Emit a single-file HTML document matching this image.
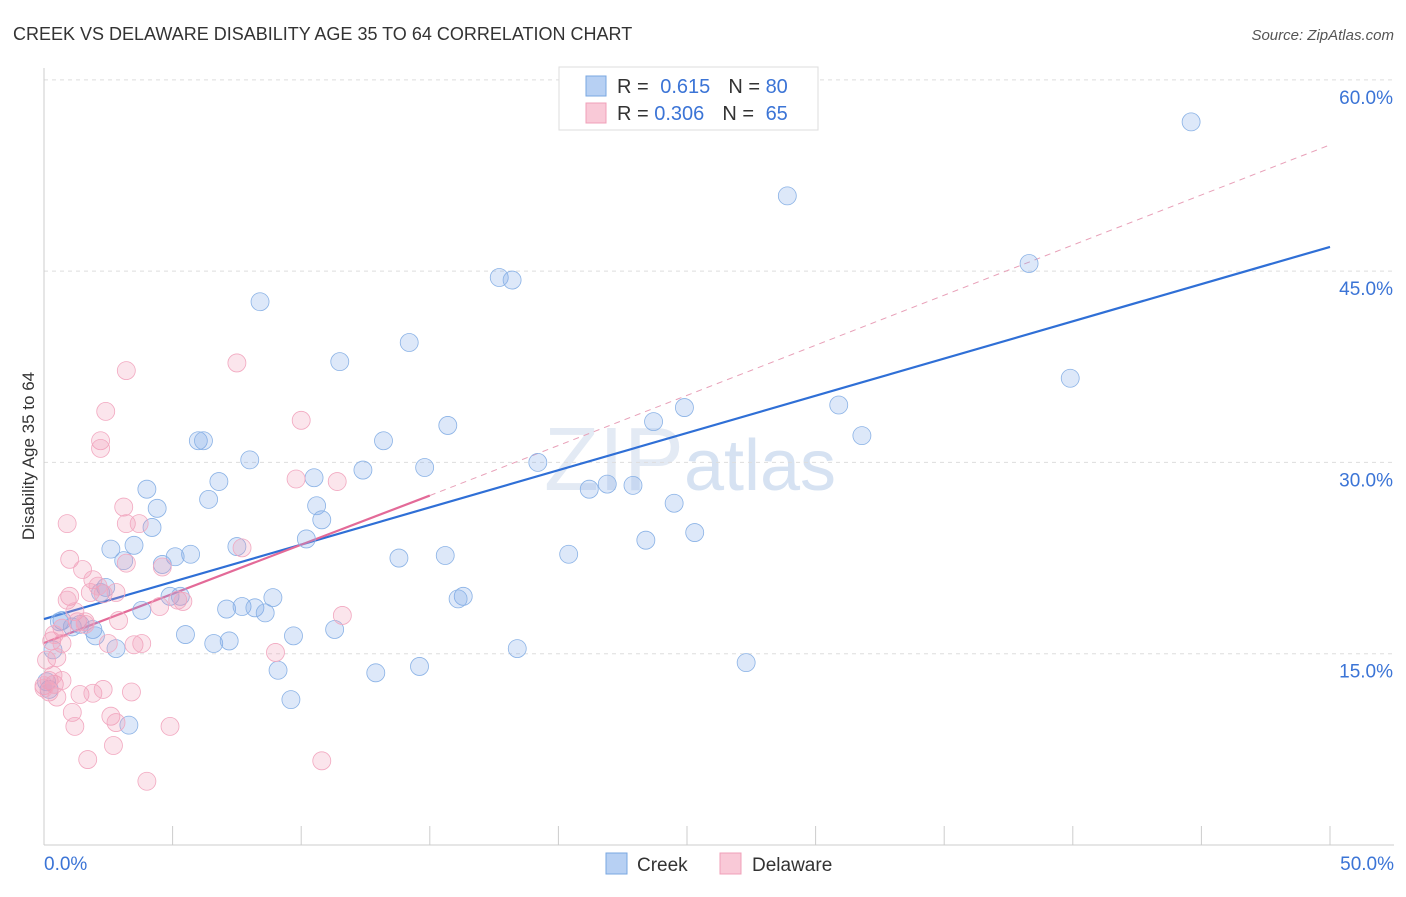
<!DOCTYPE html>
<html><head><meta charset="utf-8"><style>
body{margin:0;background:#fff;font-family:"Liberation Sans",sans-serif}
svg text{font-family:"Liberation Sans",sans-serif}
</style></head><body>
<svg id="chart" width="1406" height="892" xmlns="http://www.w3.org/2000/svg">
<text x="13" y="40" font-size="18" fill="#333">CREEK VS DELAWARE DISABILITY AGE 35 TO 64 CORRELATION CHART</text>
<text x="1394" y="40" font-size="15" fill="#555" text-anchor="end" font-style="italic">Source: ZipAtlas.com</text>
<text x="690" y="490" font-size="90" fill="#e3eaf4" text-anchor="middle" font-family="Liberation Serif">ZIP<tspan font-family="Liberation Sans" font-size="72" fill="#d6e2f2">atlas</tspan></text>
<g id="grid"></g><g id="axes"></g><g id="lines"></g><g id="pts"></g>
<text transform="translate(34,456) rotate(-90)" font-size="17" fill="#333" text-anchor="middle">Disability Age 35 to 64</text>
<g>
<rect x="559" y="67" width="259" height="63" fill="#fff" stroke="#ddd"/>
<rect x="586" y="76" width="20" height="20" fill="#b7d0f3" stroke="#7aa7e0"/>
<rect x="586" y="103" width="20" height="20" fill="#f9c9d7" stroke="#f0a0b8"/>
<text x="617" y="93" font-size="20" fill="#333">R = <tspan fill="#3b74d6" dx="6">0.615</tspan><tspan fill="#333" dx="18">N = </tspan><tspan fill="#3b74d6">80</tspan></text>
<text x="617" y="120" font-size="20" fill="#333">R = <tspan fill="#3b74d6">0.306</tspan><tspan fill="#333" dx="18">N = </tspan><tspan fill="#3b74d6" dx="6">65</tspan></text>
</g>
<g>
<rect x="606" y="853" width="21" height="21" fill="#b7d0f3" stroke="#7aa7e0"/>
<text x="637" y="871" font-size="19" fill="#333">Creek</text>
<rect x="720" y="853" width="21" height="21" fill="#f9c9d7" stroke="#f0a0b8"/>
<text x="752" y="871" font-size="19" fill="#333">Delaware</text>
</g>
</svg>
<script>
const yTicks=[15,30,45,60];
const xTickLabels=["0.0%","50.0%"];
const creekX=[44.6,28.9,38.3,17.7,18.2,8.4,14.2,11.5,39.9,30.9,24.9,23.7,15.7,31.8,13.2,6.0,6.2,8.0,19.2,14.8,12.4,10.5,6.8,22.9,21.2,21.9,4.0,6.4,10.6,24.5,4.4,10.8,4.2,25.3,23.4,10.2,7.5,2.6,3.5,20.4,15.6,5.7,5.1,13.8,3.1,4.6,2.4,2.2,4.9,5.3,8.9,16.3,16.1,3.8,7.1,7.7,8.2,8.6,0.7,1.4,0.6,1.1,1.9,2.0,5.5,11.3,9.7,6.6,7.2,2.8,18.4,0.35,27.3,14.6,9.1,12.9,9.6,3.3,0.2,0.1];
const creekY=[56.7,50.9,45.6,44.5,44.3,42.6,39.4,37.9,36.6,34.5,34.3,33.2,32.9,32.1,31.7,31.7,31.7,30.2,30.0,29.6,29.4,28.8,28.5,28.2,27.9,28.3,27.9,27.1,26.6,26.8,26.4,25.5,24.9,24.5,23.9,24.0,23.4,23.2,23.5,22.8,22.7,22.8,22.6,22.5,22.3,22.0,20.2,19.8,19.5,19.5,19.4,19.5,19.3,18.4,18.5,18.7,18.6,18.2,17.6,17.3,17.5,17.1,16.9,16.4,16.5,16.9,16.4,15.8,16.0,15.4,15.4,15.3,14.3,14.0,13.7,13.5,11.4,9.4,12.2,12.8];
const delX=[7.5,3.2,2.4,10.0,2.2,2.2,9.8,11.4,3.1,0.9,3.2,3.7,7.7,1.0,3.2,4.6,1.5,1.9,2.8,1.0,0.9,1.8,2.3,5.2,5.4,4.5,11.6,1.2,2.9,1.3,1.6,0.3,0.7,2.5,3.5,3.8,9.0,0.5,0.1,0.2,0.4,0.7,0.0,0.2,1.4,0.5,1.9,2.3,3.4,1.1,2.6,2.8,1.2,4.9,2.7,1.7,10.8,4.0,0.35,0.0,1.6,2.1,0.7,0.4];
const delY=[37.8,37.2,34.0,33.3,31.7,31.1,28.7,28.5,26.5,25.2,25.2,25.2,23.3,22.4,22.1,21.8,21.6,20.8,19.8,19.5,19.2,19.8,19.7,19.2,19.1,18.7,18.0,18.3,17.6,17.5,17.5,16.0,15.8,15.8,15.7,15.8,15.1,14.7,14.5,12.9,12.6,12.9,12.5,12.0,11.8,11.6,11.9,12.2,12.0,10.4,10.1,9.6,9.3,9.3,7.8,6.7,6.6,5.0,13.3,12.3,17.3,20.3,17.0,16.5];
const creekFit=[17.72,46.9];
const delFit=[15.84,27.4,54.9];
const sx=v=>44+v*25.72, sy=v=>845-v*12.753;
const NS="http://www.w3.org/2000/svg";
function mk(t,a,p){const e=document.createElementNS(NS,t);for(const k in a)e.setAttribute(k,a[k]);document.getElementById(p).appendChild(e);return e;}
yTicks.forEach(v=>{
 const l=mk('line',{x1:44,x2:1394,y1:sy(v),y2:sy(v),stroke:'#ddd','stroke-dasharray':'4,4'},'grid');
 
 
 const t=mk('text',{x:1393,y:sy(v)+24,'font-size':19,fill:'#3b74d6','text-anchor':'end'},'axes');
 t.textContent=v.toFixed(1)+'%';
 
 
});
mk('line',{x1:44,x2:44,y1:68,y2:845,stroke:'#ccc'},'axes');
mk('line',{x1:44,x2:1394,y1:845,y2:845,stroke:'#ccc'},'axes');
for(let i=0;i<=10;i++){const tk=mk('line',{x1:sx(i*5),x2:sx(i*5),y1:826,y2:845,stroke:'#ccc'},'axes');
 
 }
[[0,'start',44],[1,'end',1394]].forEach(([i,a,x])=>{const t=mk('text',{x:x,y:870,'font-size':19,fill:'#3b74d6','text-anchor':a},'axes');t.textContent=xTickLabels[i];
 
 });
const dl=mk('line',{x1:sx(15),y1:sy(delFit[1]),x2:sx(50),y2:sy(delFit[2]),stroke:'#e8a0b8','stroke-dasharray':'6,5','stroke-width':1},'lines');


function pts(X,Y,f,s,n){X.forEach((x,i)=>{const c=mk('circle',{cx:sx(x),cy:sy(Y[i]),r:9,fill:f,stroke:s,'stroke-width':0.8},'pts');
 
 });}
pts(creekX,creekY,'rgba(120,165,230,0.25)','#8ab2e6','creek-point');
pts(delX,delY,'rgba(240,150,180,0.25)','#f2a8c0','delaware-point');
const cl=mk('line',{x1:sx(0),y1:sy(creekFit[0]),x2:sx(50),y2:sy(creekFit[1]),stroke:'#2f6fd6','stroke-width':2.2},'lines');


const pl=mk('line',{x1:sx(0),y1:sy(delFit[0]),x2:sx(15),y2:sy(delFit[1]),stroke:'#e36a98','stroke-width':2.2},'lines');


</script>
</body></html>
